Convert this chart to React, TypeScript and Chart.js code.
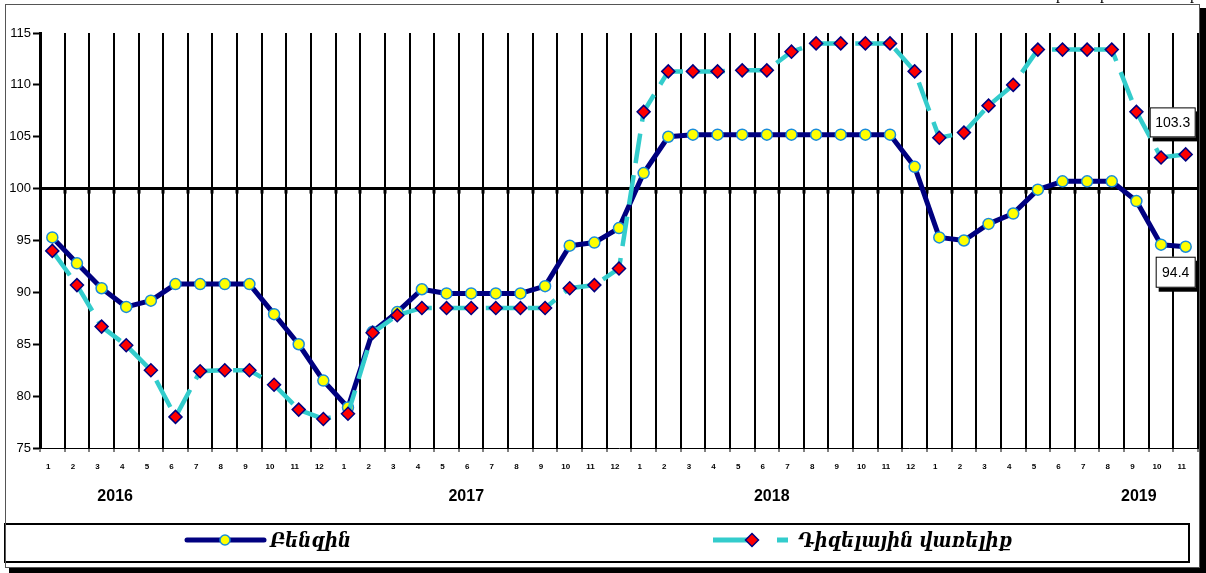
import React, { useEffect, useRef } from "react";
import { Chart, registerables } from "chart.js";

Chart.register(...registerables);

// ---- data ----
const monthLabels2016 = ["1", "2", "3", "4", "5", "6", "7", "8", "9", "10", "11", "12"];
const monthLabels2017 = ["1", "2", "3", "4", "5", "6", "7", "8", "9", "10", "11", "12"];
const monthLabels2018 = ["1", "2", "3", "4", "5", "6", "7", "8", "9", "10", "11", "12"];
const monthLabels2019 = ["1", "2", "3", "4", "5", "6", "7", "8", "9", "10", "11"];
const categories = [...monthLabels2016, ...monthLabels2017, ...monthLabels2018, ...monthLabels2019];

const yearLabels = ["2016", "2017", "2018", "2019"];

const petrolName = "Բենզին";
const petrolValues = [
  95.3, 92.8, 90.4, 88.6, 89.2, 90.8, 90.8, 90.8, 90.8, 87.9, 85.0, 81.5,
  78.9, 86.2, 88.1, 90.3, 89.9, 89.9, 89.9, 89.9, 90.6, 94.5, 94.8, 96.2,
  101.5, 105.0, 105.2, 105.2, 105.2, 105.2, 105.2, 105.2, 105.2, 105.2, 105.2, 102.1,
  95.3, 95.0, 96.6, 97.6, 99.9, 100.7, 100.7, 100.7, 98.8, 94.6, 94.4,
];

const dieselName = "Դիզելային վառելիք";
const dieselValues = [
  94.0, 90.7, 86.7, 84.9, 82.5, 78.0, 82.4, 82.5, 82.5, 81.1, 78.7, 77.8,
  78.3, 86.1, 87.8, 88.5, 88.5, 88.5, 88.5, 88.5, 88.5, 90.4, 90.7, 92.3,
  107.4, 111.3, 111.3, 111.3, 111.4, 111.4, 113.2, 114.0, 114.0, 114.0, 114.0, 111.3,
  104.9, 105.4, 108.0, 110.0, 113.4, 113.4, 113.4, 113.4, 107.4, 103.0, 103.3,
];

const yMin = 75;
const yMax = 115;
const yStep = 5;
const referenceLine = 100;

// ---- styles ----
const NAVY = "#000080";
const TURQ = "#33CCCC";
const W = 1206;
const H = 573;
const ARM_FONT = "bold italic 20px 'DejaVu Serif', 'DejaVu Sans', serif";

function fitText(ctx: CanvasRenderingContext2D, text: string, x: number, y: number, width: number) {
  const m = ctx.measureText(text).width;
  const s = width / m;
  ctx.save();
  ctx.translate(x, y);
  ctx.scale(s, 1);
  ctx.fillText(text, 0, 0);
  ctx.restore();
}

const decorPlugin = {
  id: "decor",
  beforeDraw(chart: any) {
    const ctx = chart.ctx as CanvasRenderingContext2D;
    ctx.save();
    ctx.fillStyle = "#fff";
    ctx.fillRect(0, 0, W, H);
    ctx.restore();
  },
  beforeDatasetsDraw(chart: any) {
    const ctx = chart.ctx as CanvasRenderingContext2D;
    const x = chart.scales.x;
    const y = chart.scales.y;
    const y100 = y.getPixelForValue(referenceLine);
    const n = categories.length;
    const step = (x.right - x.left) / n;
    ctx.save();
    ctx.strokeStyle = "#000";
    ctx.lineWidth = 3;
    for (let i = 1; i < n; i++) {
      const gx = Math.round(x.left + step * i);
      ctx.beginPath();
      ctx.moveTo(gx, y100);
      ctx.lineTo(gx, y100 + 5);
      ctx.stroke();
    }
    ctx.restore();
  },
  afterDatasetsDraw(chart: any) {
    const ctx = chart.ctx as CanvasRenderingContext2D;
    const drawBox = (text: string, cx: number, top: number, w: number, h: number) => {
      const left = cx - w / 2;
      ctx.fillStyle = "#000";
      ctx.fillRect(left + 3, top + 4, w, h);
      ctx.fillStyle = "#fff";
      ctx.fillRect(left, top, w, h);
      ctx.strokeStyle = "#000";
      ctx.lineWidth = 1;
      ctx.strokeRect(left + 0.5, top + 0.5, w - 1, h - 1);
      ctx.fillStyle = "#000";
      ctx.font = "14px Arial, 'Liberation Sans', sans-serif";
      ctx.textAlign = "center";
      ctx.textBaseline = "middle";
      ctx.fillText(text, cx, top + h / 2 + 1);
    };
    const dMeta = chart.getDatasetMeta(0);
    const pMeta = chart.getDatasetMeta(1);
    const dLast = dMeta.data[dMeta.data.length - 1];
    const pLast = pMeta.data[pMeta.data.length - 1];
    ctx.save();
    drawBox(dieselValues[dieselValues.length - 1].toFixed(1), dLast.x - 13, dLast.y - 47, 46, 30);
    drawBox(petrolValues[petrolValues.length - 1].toFixed(1), pLast.x - 10, pLast.y + 10, 40, 31);
    ctx.restore();
  },
  afterDraw(chart: any) {
    const ctx = chart.ctx as CanvasRenderingContext2D;
    const x = chart.scales.x;
    const n = categories.length;
    const step = (x.right - x.left) / n;
    ctx.save();
    // year labels
    const yearPos = [3.05, 17.3, 29.7, 44.6];
    ctx.fillStyle = "#000";
    ctx.font = "bold 16px Arial, 'Liberation Sans', sans-serif";
    ctx.textAlign = "center";
    ctx.textBaseline = "middle";
    yearLabels.forEach((t, i) => {
      ctx.fillText(t, x.left + step * yearPos[i], 497);
    });

    // legend box
    ctx.strokeStyle = "#000";
    ctx.lineWidth = 2;
    ctx.strokeRect(5, 524, 1184, 38);

    // legend item 1 (petrol)
    const ly = 540;
    ctx.lineCap = "round";
    ctx.strokeStyle = NAVY;
    ctx.lineWidth = 5;
    ctx.beginPath();
    ctx.moveTo(187, ly);
    ctx.lineTo(264, ly);
    ctx.stroke();
    ctx.lineCap = "butt";
    ctx.beginPath();
    ctx.arc(225, ly, 5, 0, Math.PI * 2);
    ctx.fillStyle = "#FFFF00";
    ctx.fill();
    ctx.lineWidth = 1.5;
    ctx.strokeStyle = "#1a8cd8";
    ctx.stroke();
    ctx.fillStyle = "#000";
    ctx.font = ARM_FONT;
    ctx.textAlign = "left";
    ctx.textBaseline = "alphabetic";
    fitText(ctx, petrolName, 270, 547, 81);

    // legend item 2 (diesel)
    ctx.strokeStyle = TURQ;
    ctx.lineWidth = 5;
    ctx.beginPath();
    ctx.moveTo(713, ly);
    ctx.lineTo(748, ly);
    ctx.moveTo(777, ly);
    ctx.lineTo(788, ly);
    ctx.stroke();
    ctx.beginPath();
    ctx.moveTo(752, ly - 6.5);
    ctx.lineTo(758.5, ly);
    ctx.lineTo(752, ly + 6.5);
    ctx.lineTo(745.5, ly);
    ctx.closePath();
    ctx.fillStyle = "#FF0000";
    ctx.fill();
    ctx.lineWidth = 1.5;
    ctx.strokeStyle = NAVY;
    ctx.stroke();
    ctx.fillStyle = "#000";
    ctx.font = ARM_FONT;
    fitText(ctx, dieselName, 798, 547, 214);

    // outer frame + shadow
    ctx.strokeStyle = "#555";
    ctx.lineWidth = 1;
    ctx.strokeRect(5.5, 4.5, 1194, 563);
    ctx.fillStyle = "#000";
    ctx.fillRect(1200, 8, 6, 565);
    ctx.fillRect(9, 568, 1197, 5);

    // cut-off page text at top right
    ctx.font = "16px 'Liberation Serif', serif";
    ctx.fillStyle = "#000";
    ctx.textAlign = "center";
    ctx.fillText("p", 1060, -1);
    ctx.fillText("p", 1104, -1);
    ctx.fillText("p", 1194, -1);
    ctx.restore();
  },
};

export default function App() {
  const ref = useRef<HTMLCanvasElement | null>(null);

  useEffect(() => {
    if (!ref.current) return;
    const chart = new Chart(ref.current, {
      type: "line",
      data: {
        labels: categories,
        datasets: [
          {
            label: dieselName,
            data: dieselValues,
            borderColor: TURQ,
            borderWidth: 4.5,
            borderDash: [30, 12],
            pointStyle: "rectRot",
            pointRadius: 6.5,
            pointBackgroundColor: "#FF0000",
            pointBorderColor: NAVY,
            pointBorderWidth: 1.5,
            tension: 0,
            fill: false,
          },
          {
            label: petrolName,
            data: petrolValues,
            borderColor: NAVY,
            borderWidth: 5,
            borderJoinStyle: "round",
            pointStyle: "circle",
            pointRadius: 5.5,
            pointBackgroundColor: "#FFFF00",
            pointBorderColor: "#1a8cd8",
            pointBorderWidth: 1.5,
            tension: 0,
            fill: false,
          },
        ],
      },
      options: {
        responsive: false,
        animation: false,
        devicePixelRatio: 1,
        layout: { padding: { left: 0, right: 6, top: 33, bottom: 0 } },
        plugins: {
          legend: { display: false },
          tooltip: { enabled: false },
          title: { display: false },
        },
        scales: {
          x: {
            type: "category",
            offset: true,
            grid: {
              display: true,
              offset: true,
              color: "#000",
              lineWidth: 2,
              drawTicks: true,
              tickLength: 4,
              tickColor: "#000",
              tickWidth: 1,
            },
            border: { display: true, color: "#000", width: 1 },
            ticks: {
              font: { family: "Arial, 'Liberation Sans', sans-serif", size: 8, weight: "bold" },
              color: "#000",
              maxRotation: 0,
              minRotation: 0,
              autoSkip: false,
              padding: 10,
              labelOffset: -4,
            },
            afterFit(s: any) {
              s.height = 125;
            },
          },
          y: {
            min: yMin,
            max: yMax,
            ticks: {
              stepSize: yStep,
              font: { family: "Arial, 'Liberation Sans', sans-serif", size: 13 },
              color: "#000",
              padding: 2,
            },
            grid: {
              drawOnChartArea: true,
              color: (c: any) => (c.tick && c.tick.value === referenceLine ? "#000" : "rgba(0,0,0,0)"),
              lineWidth: (c: any) => (c.tick && c.tick.value === referenceLine ? 3 : 1),
              drawTicks: true,
              tickLength: 7,
              tickColor: "#000",
              tickWidth: 2,
            },
            border: { display: true, color: "#000", width: 3 },
            afterFit(s: any) {
              s.width = 40;
            },
          },
        },
      } as any,
      plugins: [decorPlugin],
    });
    return () => chart.destroy();
  }, []);

  return (
    <div style={{ position: "fixed", left: 0, top: 0, width: W, height: H, background: "#fff" }}>
      <canvas ref={ref} width={W} height={H} style={{ display: "block", width: W, height: H }} />
    </div>
  );
}
